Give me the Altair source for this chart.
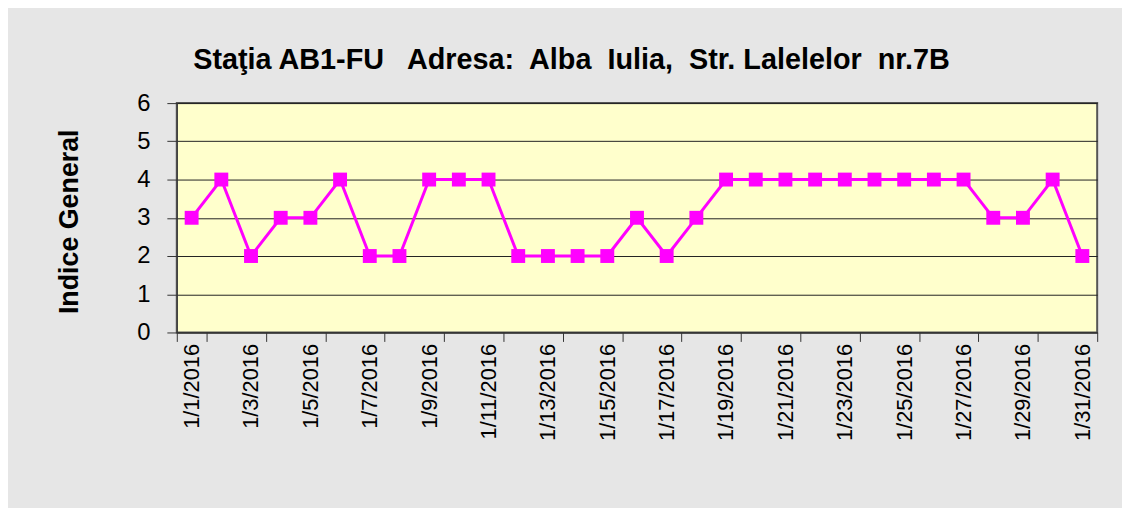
import altair as alt
import pandas as pd

dates = [
    "1/1/2016", "1/2/2016", "1/3/2016", "1/4/2016", "1/5/2016", "1/6/2016",
    "1/7/2016", "1/8/2016", "1/9/2016", "1/10/2016", "1/11/2016", "1/12/2016",
    "1/13/2016", "1/14/2016", "1/15/2016", "1/16/2016", "1/17/2016", "1/18/2016",
    "1/19/2016", "1/20/2016", "1/21/2016", "1/22/2016", "1/23/2016", "1/24/2016",
    "1/25/2016", "1/26/2016", "1/27/2016", "1/28/2016", "1/29/2016", "1/30/2016",
    "1/31/2016",
]
values = [3, 4, 2, 3, 3, 4, 2, 2, 4, 4, 4, 2, 2, 2, 2, 3, 2, 3, 4, 4,
          4, 4, 4, 4, 4, 4, 4, 3, 3, 4, 2]
label_dates = dates[::2]
y_ticks = [0, 1, 2, 3, 4, 5, 6]

title_text = "Sta\u0163ia AB1-FU\u00a0\u00a0 Adresa:\u00a0 Alba\u00a0 Iulia,\u00a0 Str. Lalelelor\u00a0 nr.7B"
FONT = "Liberation Sans, Arial, sans-serif"

df = pd.DataFrame({"date": dates, "value": values})

base = alt.Chart(df).encode(
    x=alt.X(
        "date:N",
        sort=dates,
        bandPosition=0.5,
        scale=alt.Scale(type="band", paddingInner=0, paddingOuter=0),
        axis=alt.Axis(
            values=label_dates,
            tickBand="extent",
            labelAngle=270,
            labelAlign="right",
            labelBaseline="middle",
            labelFontSize=22,
            labelFont=FONT,
            labelColor="black",
            tickSize=9,
            tickColor="#333",
            domainColor="#333",
            labelPadding=2,
            grid=False,
            title=None,
        ),
    ),
    y=alt.Y(
        "value:Q",
        scale=alt.Scale(domain=[0, 6], nice=False),
        axis=alt.Axis(
            values=y_ticks,
            format="d",
            labelFontSize=24,
            labelFont=FONT,
            labelColor="black",
            tickSize=10,
            tickColor="#333",
            domainColor="#333",
            labelPadding=17,
            gridColor="#222",
            gridWidth=1,
            title="Indice General",
            titleFont=FONT,
            titleFontSize=27,
            titleFontWeight="bold",
            titleColor="black",
            titleAngle=270,
            titleBaseline="middle",
            titleX=-108,
            titleY=119,
        ),
    ),
)

line = base.mark_line(color="#FF00FF", strokeWidth=3)
pts = base.mark_square(color="#FF00FF", size=196, opacity=1)

chart = (line + pts).properties(
    width=927,
    height=231,
    title=alt.TitleParams(
        text=title_text,
        font=FONT,
        fontSize=29,
        fontWeight="bold",
        color="black",
        anchor="middle",
        dx=-66,
        offset=16,
    ),
    autosize=alt.AutoSizeParams(type="none"),
    padding={"left": 170, "top": 94, "right": 25, "bottom": 175},
    background="#e6e6e6",
).configure_view(fill="#FFFFCC", stroke="#555", strokeWidth=2)

chart.save("out.html", embed_options={"renderer": "svg", "actions": False})
